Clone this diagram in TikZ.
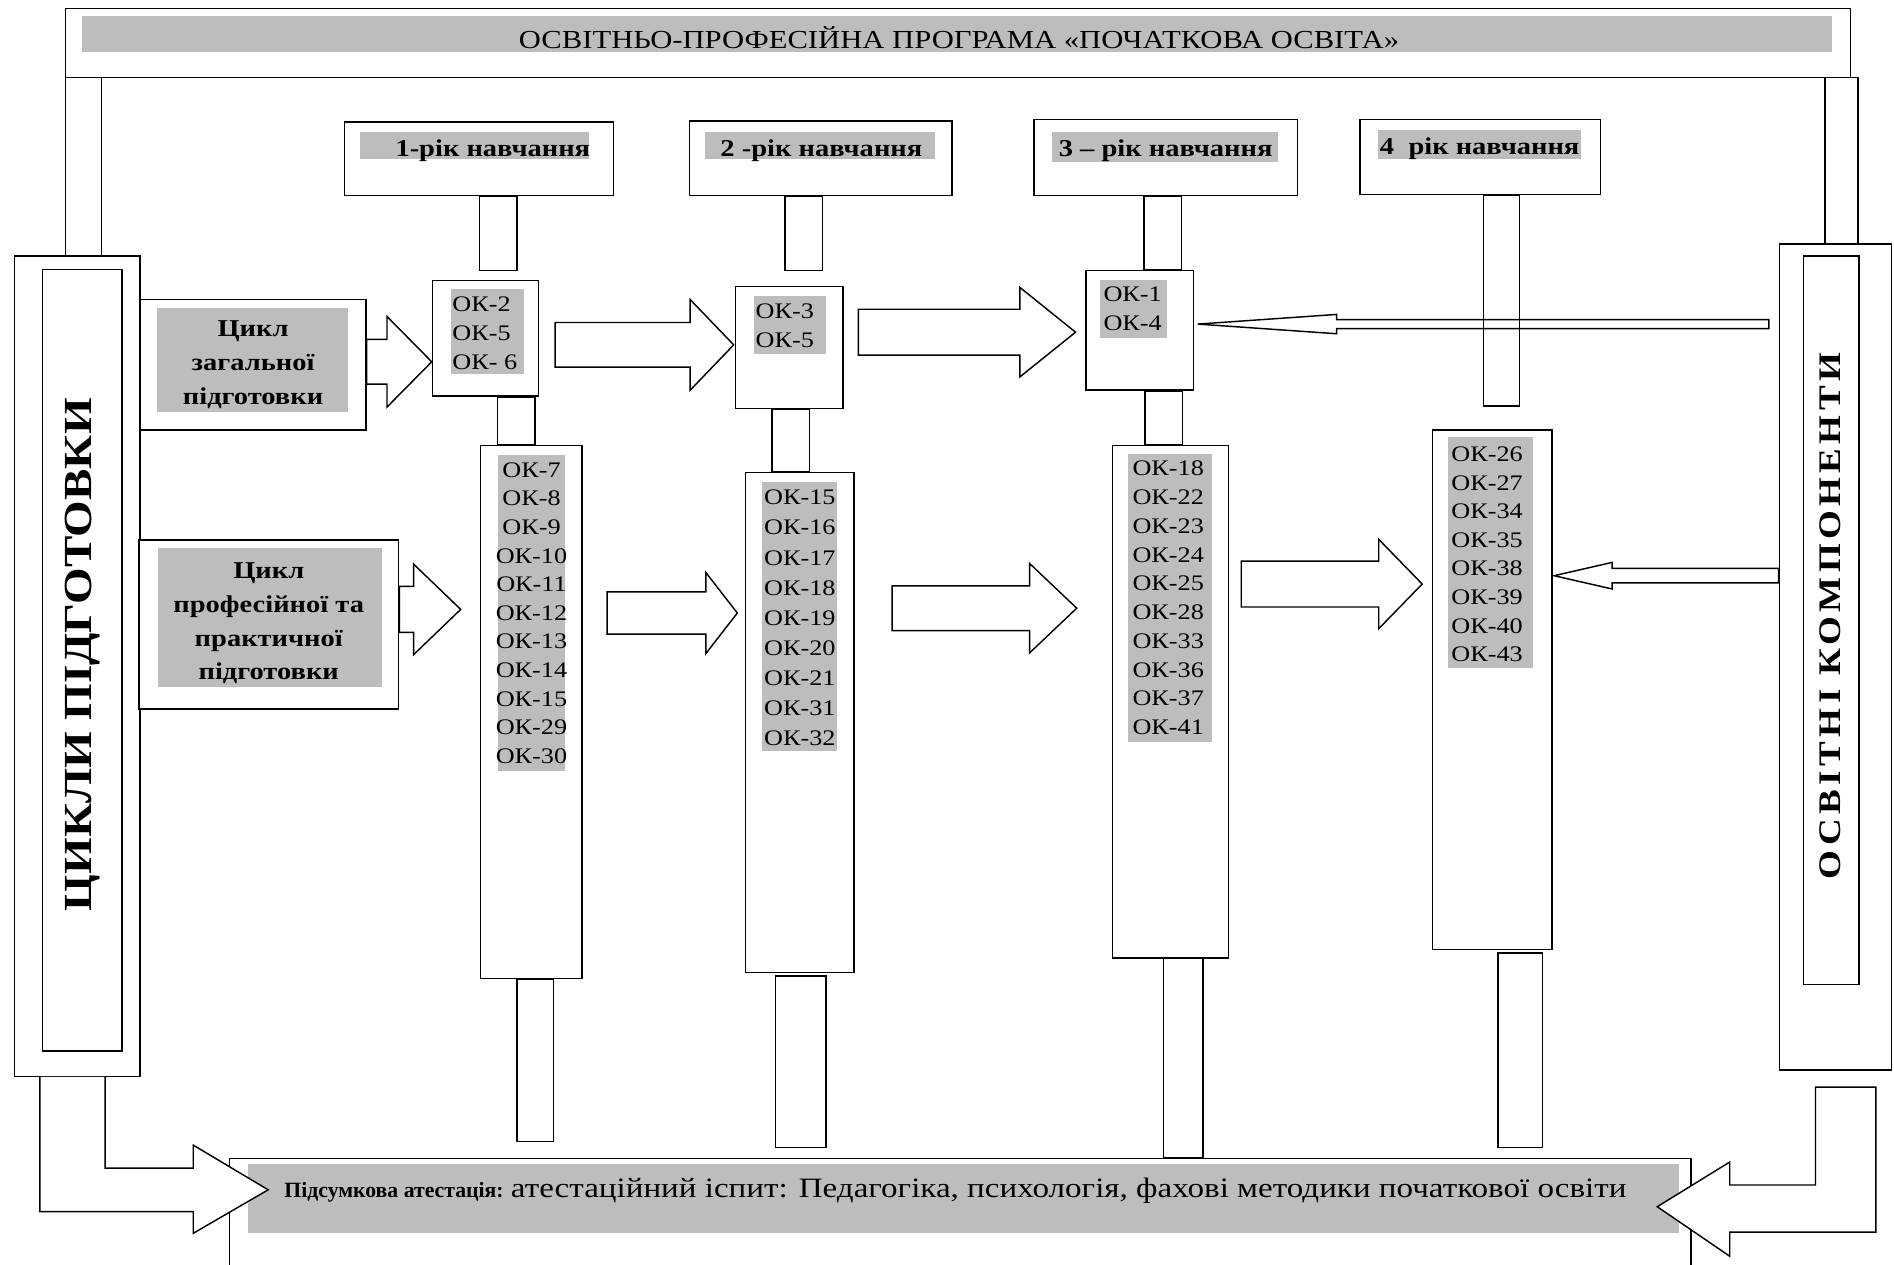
\documentclass[tikz,border=0pt]{standalone}
\usepackage{fontspec}
\setmainfont{Liberation Serif}[FakeStretch=1.18]
\newfontfamily\plainserif{Liberation Serif}
\usetikzlibrary{calc}

\definecolor{hlgray}{gray}{0.74}
\tikzset{
  box/.style={draw, fill=white, inner sep=0pt},
  ok/.style={inner sep=0pt, font=\fontsize{18.4}{20}\selectfont},
  year/.style={inner sep=0pt, font=\bfseries\fontsize{20}{24}\selectfont},
  cycle/.style={inner sep=0pt, align=center, font=\bfseries\fontsize{20}{28}\selectfont},
  blk/.style={draw, fill=white, line join=miter},
}

% block arrow to the right: from node, gap, to node, gap, y, stem half, head half, head length
\newcommand{\blockarrow}[8]{%
  \draw[blk] let \p1=(#1), \p2=(#3) in
    (\x1+#2pt,-#5pt+#6pt) -- (\x2-#4pt-#8pt,-#5pt+#6pt) -- (\x2-#4pt-#8pt,-#5pt+#7pt)
    -- (\x2-#4pt,-#5pt) -- (\x2-#4pt-#8pt,-#5pt-#7pt) -- (\x2-#4pt-#8pt,-#5pt-#6pt)
    -- (\x1+#2pt,-#5pt-#6pt) -- cycle;}
% the same, pointing to the left
\newcommand{\backarrow}[8]{%
  \draw[blk] let \p1=(#1), \p2=(#3) in
    (\x1-#2pt,-#5pt+#6pt) -- (\x2+#4pt+#8pt,-#5pt+#6pt) -- (\x2+#4pt+#8pt,-#5pt+#7pt)
    -- (\x2+#4pt,-#5pt) -- (\x2+#4pt+#8pt,-#5pt-#7pt) -- (\x2+#4pt+#8pt,-#5pt-#6pt)
    -- (\x1-#2pt,-#5pt-#6pt) -- cycle;}

\begin{document}
\begin{tikzpicture}[x=1pt, y=-1pt, line width=1.2pt]
\useasboundingbox (0,0) rectangle (1568,1047);

% side boxes
\node[box, minimum width=104pt, minimum height=679pt] (lb) at (64,551.5) {};
\node[box, minimum width=66pt, minimum height=647pt] (lbi) at (68,546.5) {};
\node[box, minimum width=93pt, minimum height=684pt] (rb) at (1519.5,544) {};
\node[box, minimum width=46pt, minimum height=603pt] (rbi) at (1516,513.5) {};

% title frame
\draw (lb.north -| 54,0) -- (54,7) -- (1532,7) -- (1532,64);
\draw (54,64) -- (1538,64) -- (rb.north -| 1538,0);
\draw (84,64) -- (lb.north -| 84,0);
\draw (1511,64) -- (rb.north -| 1511,0);
\fill[hlgray] (68,13) rectangle (1517,43);
\node[inner sep=0pt, font=\fontsize{21.5}{24}\selectfont] (title) at (794,31)
  {ОСВІТНЬО-ПРОФЕСІЙНА ПРОГРАМА «ПОЧАТКОВА ОСВІТА»};

% years
\node[box, minimum width=223pt, minimum height=61pt] (y1) at (396.5,131.5) {};
\node[box, minimum width=217pt, minimum height=62pt] (y2) at (679.5,131) {};
\node[box, minimum width=218pt, minimum height=63pt] (y3) at (965,130.5) {};
\node[box, minimum width=199pt, minimum height=62pt] (y4) at (1225.5,130) {};

% cycles
\node[box, minimum width=187pt, minimum height=108pt] (g1) at (209.5,302) {};
\node[box, minimum width=215pt, minimum height=140pt] (g2) at (222.5,517) {};

% columns
\node[box, minimum width=88pt, minimum height=96pt] (b1a) at (402,280) {};
\node[box, minimum width=84pt, minimum height=441pt] (b1b) at (440,589.5) {};
\node[box, minimum width=89pt, minimum height=101pt] (b2a) at (653.5,287.5) {};
\node[box, minimum width=90pt, minimum height=414pt] (b2b) at (662,598) {};
\node[box, minimum width=89pt, minimum height=99pt] (b3a) at (943.5,273.5) {};
\node[box, minimum width=96pt, minimum height=424pt] (b3b) at (969,581) {};
\node[box, minimum width=99pt, minimum height=430pt] (b4) at (1235.5,571) {};

% final box
\node[box, minimum width=1210pt, minimum height=100pt] (fb) at (795,1009) {};
\fill[hlgray] (205,964) rectangle (1390,1021);

% arrows
\blockarrow{g1.east}{0}{b1a.west}{0}{299.5}{18.5}{37.5}{37}
\blockarrow{b1a.east}{13}{b2a.west}{1}{285.5}{18.5}{37.5}{36}
\blockarrow{b2a.east}{12}{b3a.west}{8}{275}{19}{37}{46}
\blockarrow{g2.east}{0}{b1b.west}{16}{504.5}{19}{37.5}{39}
\blockarrow{b1b.east}{20}{b2b.west}{6}{507.5}{17.5}{33.5}{26}
\blockarrow{b2b.east}{31}{b3b.west}{29}{503.5}{18.5}{37}{39}
\blockarrow{b3b.east}{10}{b4.west}{8}{483.5}{19}{37}{36}
\backarrow{rb.west}{8}{b3a.east}{3}{268.3}{3.75}{8}{115}
\backarrow{rb.west}{0}{b4.east}{1}{476.6}{6}{11}{48}
\draw[blk] (lb.south -| 87,0) |- (160,967) -- (160,948) -- (222,985) -- (160,1021)
  -- (160,1003) -| (lb.south -| 33,0);
\draw[blk] (1503,900) -- (1553,900) |- (1432,1020) -- (1432,1040) -- (1372,999)
  -- (1432,962) -- (1432,981) -| (1503,900) -- cycle;

% stems
\draw (397,0 |- y1.south) rectangle (428,224);
\draw (650,0 |- y2.south) rectangle (681,224);
\draw (947,0 |- y3.south) rectangle (978,0 |- b3a.north);
\draw (1228,0 |- y4.south) rectangle (1258,336);
\draw (412,0 |- b1a.south) rectangle (443,0 |- b1b.north);
\draw (639,0 |- b2a.south) rectangle (670,0 |- b2b.north);
\draw (948,0 |- b3a.south) rectangle (979,0 |- b3b.north);
\draw (428,0 |- b1b.south) rectangle (458,945);
\draw (642,808) rectangle (684,950);
\draw (963,0 |- b3b.south) rectangle (996,0 |- fb.north);
\draw (1240,789) rectangle (1277,950);

% highlights
\fill[hlgray] (298,109) rectangle (488,132);
\fill[hlgray] (584,109) rectangle (774,132);
\fill[hlgray] (871,109) rectangle (1058,134);
\fill[hlgray] (1141,108) rectangle (1309,132);
\fill[hlgray] (130,255) rectangle (288,341);
\fill[hlgray] (131,454) rectangle (316,569);
\fill[hlgray] (373,239) rectangle (434,310);
\fill[hlgray] (624,245) rectangle (684,293);
\fill[hlgray] (911,232) rectangle (966,280);
\fill[hlgray] (412,377) rectangle (468,638);
\fill[hlgray] (631,399) rectangle (693,622);
\fill[hlgray] (934,376) rectangle (1003,614);
\fill[hlgray] (1199,362) rectangle (1269,553);

% texts
\node[year] (y1t) at (408,124.5) {1-рік навчання};
\node[year] (y2t) at (680,124.5) {2 -рік навчання};
\node[year] (y3t) at (965,124.5) {3 – рік навчання};
\node[year] (y4t) at (1225,123.5) {4~ рік навчання};
\node[cycle] (g1t) at (209.5,302) {Цикл\\загальної\\підготовки};
\node[cycle] (g2t) at (222.5,516) {Цикл\\професійної та\\практичної\\підготовки};
\node[rotate=90, inner sep=0pt, font=\bfseries\fontsize{33}{33}\selectfont] (lbt) at (68.5,542)
  {ЦИКЛИ ПІДГОТОВКИ};
\node[rotate=90, inner sep=0pt, font=\bfseries\fontsize{26}{26}\selectfont\addfontfeatures{LetterSpace=14}]
  (rbt) at (1515,510) {ОСВІТНІ КОМПОНЕНТИ};

\foreach \t [count=\i from 0] in {ОК-2,ОК-5,ОК- 6}
  \node[ok, anchor=west] (b1a-\i) at (374,{252+24*\i}) {\t};
\foreach \t [count=\i from 0] in {ОК-3,ОК-5}
  \node[ok, anchor=west] (b2a-\i) at (625,{258+24*\i}) {\t};
\foreach \t [count=\i from 0] in {ОК-1,ОК-4}
  \node[ok, anchor=west] (b3a-\i) at (913,{244+24*\i}) {\t};
\foreach \t [count=\i from 0] in {ОК-7,ОК-8,ОК-9,ОК-10,ОК-11,ОК-12,ОК-13,ОК-14,ОК-15,ОК-29,ОК-30}
  \node[ok] (b1b-\i) at (440,{389+23.7*\i}) {\t};
\foreach \t [count=\i from 0] in {ОК-15,ОК-16,ОК-17,ОК-18,ОК-19,ОК-20,ОК-21,ОК-31,ОК-32}
  \node[ok, anchor=west] (b2b-\i) at (632,{412+24.9*\i}) {\t};
\foreach \t [count=\i from 0] in {ОК-18,ОК-22,ОК-23,ОК-24,ОК-25,ОК-28,ОК-33,ОК-36,ОК-37,ОК-41}
  \node[ok, anchor=west] (b3b-\i) at (937,{388+23.8*\i}) {\t};
\foreach \t [count=\i from 0] in {ОК-26,ОК-27,ОК-34,ОК-35,ОК-38,ОК-39,ОК-40,ОК-43}
  \node[ok, anchor=west] (b4-\i) at (1201,{376+23.7*\i}) {\t};

\node[inner sep=0pt, anchor=base] (fbt) at (791,991)
  {\plainserif\bfseries\fontsize{18}{22}\selectfont Підсумкова атестація:
   \rmfamily\mdseries\fontsize{23.2}{24}\selectfont атестаційний іспит: Педагогіка, психологія, фахові методики початкової освіти};
\end{tikzpicture}
\end{document}
